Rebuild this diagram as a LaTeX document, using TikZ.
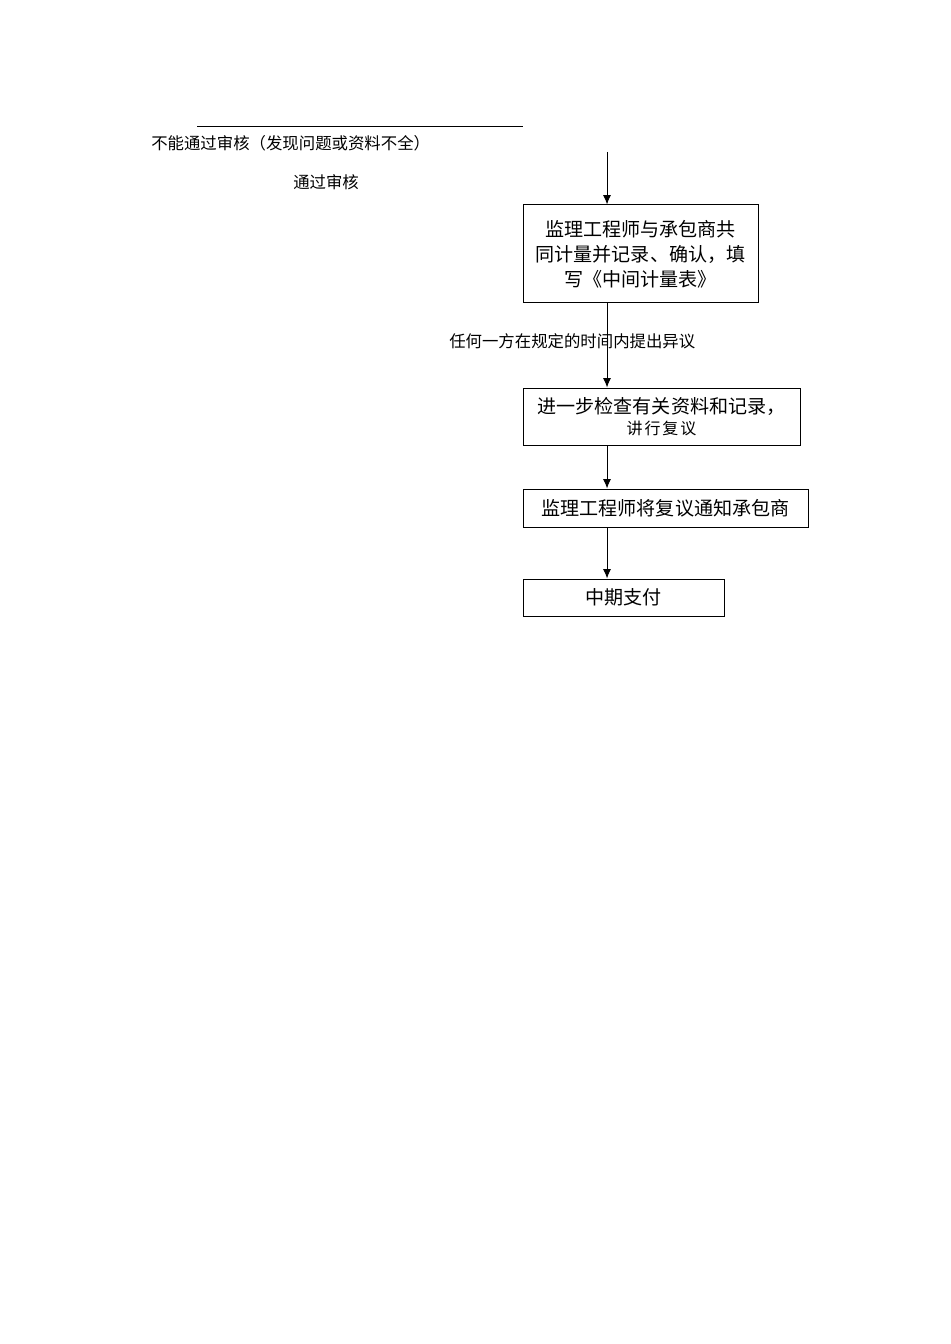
\documentclass[tikz,border=0pt]{standalone}
\usepackage{fontspec}
\setmainfont{Noto Sans CJK SC}
\newfontfamily\cjkwide[LetterSpace=12]{Noto Sans CJK SC}
\usetikzlibrary{arrows.meta}
\begin{document}
\begin{tikzpicture}[x=0.75pt,y=-0.75pt,
  flowbox/.style={draw=black,line width=0.75pt,rectangle,inner sep=0pt,align=center,
    font=\fontsize{14.3}{18.75}\selectfont},
  lbl/.style={anchor=west,inner sep=0pt,font=\fontsize{12.3}{15}\selectfont},
  flowarrow/.style={line width=0.75pt,-{Latex[length=7pt,width=6pt]}},
  plainline/.style={line width=0.75pt}]
\useasboundingbox (0,0) rectangle (950,1344);
% horizontal line and labels
\coordinate (hl) at (197,127);
\coordinate (hr) at (523,127);
\draw[plainline] (hl) -- (hr);
\node[lbl] (fail) at (151,143) {不能通过审核（发现问题或资料不全）};
\node[lbl] (pass) at (293,182) {通过审核};
% boxes
\node[flowbox,minimum width=176.25pt,minimum height=73.5pt] (b1) at (640.5,254)
  {监理工程师与承包商共\\同计量并记录、确认，填\\写《中间计量表》};
\node[flowbox,minimum width=207.75pt,minimum height=42.75pt] (b2) at (661.5,416.5)
  {\raisebox{-3pt}{进一步检查有关资料和记录，}\\[0pt]{\cjkwide\fontsize{12}{14}\selectfont 讲行复议}};
\node[flowbox,minimum width=213.75pt,minimum height=28.5pt] (b3) at (665.5,508)
  {监理工程师将复议通知承包商};
\node[flowbox,minimum width=150.75pt,minimum height=27.75pt] (b4) at (623.5,597.5)
  {\raisebox{-2pt}{中期支付}};
\node[lbl] (obj) at (449,341) {任何一方在规定的时间内提出异议};
% connectors
\coordinate (top) at (607,152);
\draw[flowarrow] (top) -- (top |- b1.north);
\draw[flowarrow] (top |- b1.south) -- (top |- b2.north);
\draw[flowarrow] (top |- b2.south) -- (top |- b3.north);
\draw[flowarrow] (top |- b3.south) -- (top |- b4.north);
\end{tikzpicture}
\end{document}
